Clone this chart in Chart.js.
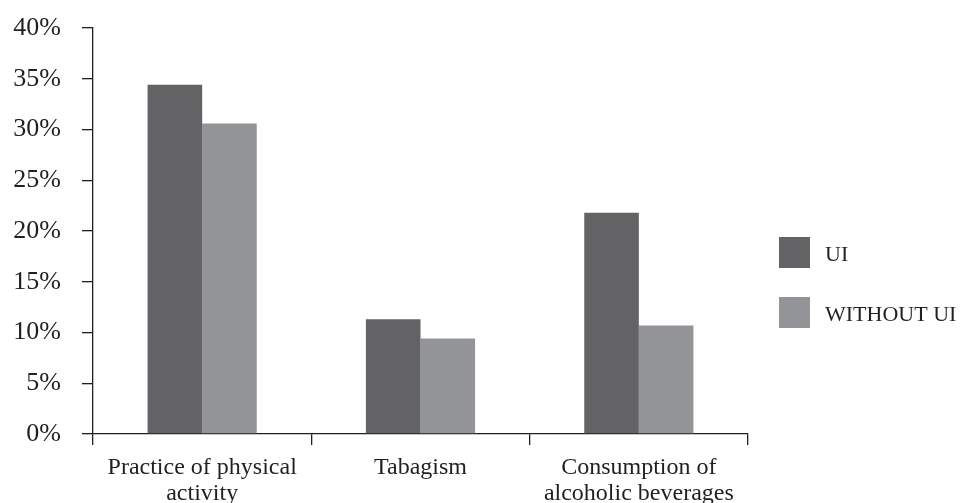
<!DOCTYPE html>
<html>
<head>
<meta charset="utf-8">
<script src="https://cdn.jsdelivr.net/npm/chart.js@4"></script>
<style>
  html, body { margin: 0; padding: 0; background: #fff; }
  #wrap { width: 969px; height: 503px; }
</style>
</head>
<body>
<div id="wrap"><canvas id="barChart"></canvas></div>
<script>
const categories = [['Practice of physical', 'activity'], 'Tabagism', ['Consumption of', 'alcoholic beverages']];
const uiValues = [34.4, 11.3, 21.8];
const withoutUiValues = [30.6, 9.4, 10.7];
const seriesNames = ['UI', 'WITHOUT UI'];
const seriesColors = ['#636365', '#939498'];
const yTicks = [0, 5, 10, 15, 20, 25, 30, 35, 40];

const serif = 'Liberation Serif, Times New Roman, serif';

// legend drawn to the right of the plot, big square swatches
const sideLegend = {
  id: 'sideLegend',
  afterDraw(chart) {
    const { ctx, chartArea } = chart;
    const x = chartArea.right + 31;
    ctx.save();
    ctx.font = '22px ' + serif;
    ctx.textBaseline = 'middle';
    chart.data.datasets.forEach((ds, i) => {
      const y = 237 + i * 60;
      ctx.fillStyle = ds.backgroundColor;
      ctx.fillRect(x, y, 31, 31);
      ctx.fillStyle = '#231f20';
      ctx.fillText(ds.label, x + 46, y + 18);
    });
    ctx.restore();
  }
};

new Chart(document.getElementById('barChart').getContext('2d'), {
  type: 'bar',
  data: {
    labels: categories,
    datasets: [
      { label: seriesNames[0], data: uiValues, backgroundColor: seriesColors[0] },
      { label: seriesNames[1], data: withoutUiValues, backgroundColor: seriesColors[1] }
    ]
  },
  options: {
    responsive: true,
    maintainAspectRatio: false,
    animation: false,
    layout: { padding: { top: 28, right: 221, left: 0, bottom: 0 } },
    datasets: { bar: { categoryPercentage: 0.5, barPercentage: 1.0, borderWidth: 0 } },
    plugins: { legend: { display: false }, tooltip: { enabled: false } },
    scales: {
      x: {
        offset: true,
        grid: { display: true, drawOnChartArea: false, tickLength: 11, color: '#231f20', lineWidth: 1.3, offset: true },
        border: { display: true, color: '#231f20', width: 1.3 },
        ticks: { color: '#231f20', font: { family: serif, size: 24, lineHeight: 1.08 }, padding: 10, maxRotation: 0 },
        afterFit: s => { s.height = 69; }
      },
      y: {
        min: 0,
        max: 40,
        afterBuildTicks: s => { s.ticks = yTicks.map(v => ({ value: v })); },
        grid: { display: true, drawOnChartArea: false, tickLength: 11, color: '#231f20', lineWidth: 1.3 },
        border: { display: true, color: '#231f20', width: 1.3 },
        ticks: { color: '#231f20', font: { family: serif, size: 26 }, padding: 21, callback: v => v + '%' },
        afterFit: s => { s.width = 93; s.paddingTop = 0; s.paddingBottom = 0; }
      }
    }
  },
  plugins: [sideLegend]
});
</script>
</body>
</html>
